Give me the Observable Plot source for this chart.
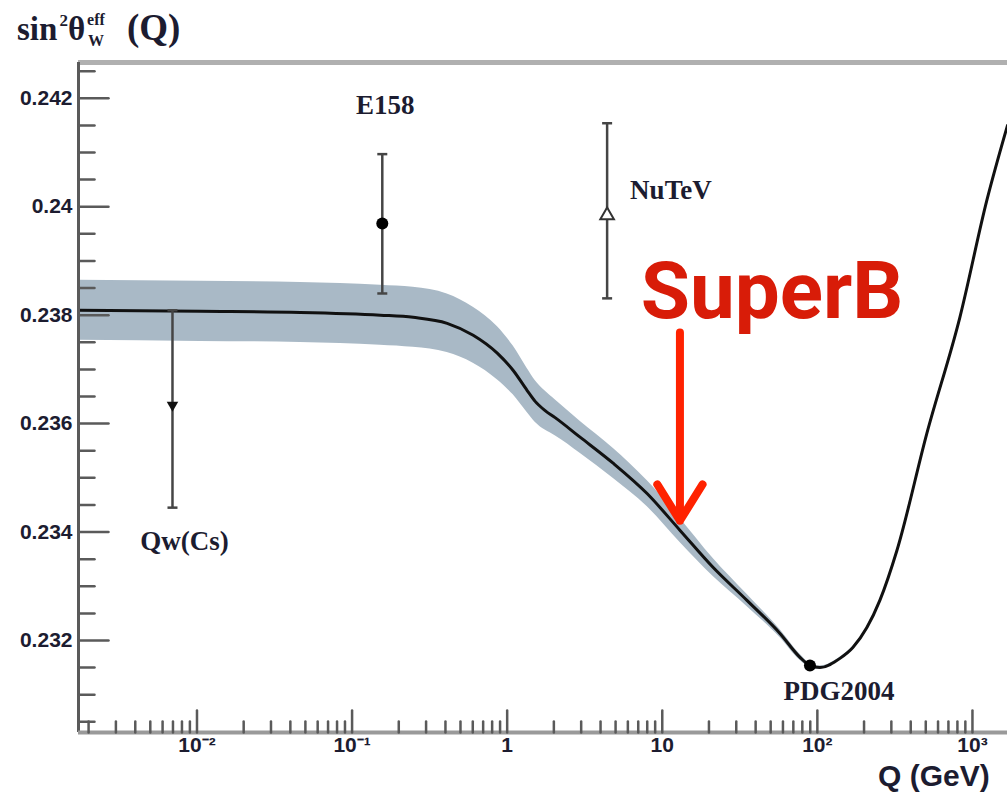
<!DOCTYPE html>
<html>
<head>
<meta charset="utf-8">
<script src="https://cdn.jsdelivr.net/npm/d3@7"></script>
<script src="https://cdn.jsdelivr.net/npm/@observablehq/plot@0.6"></script>
<style>
  html, body { margin: 0; padding: 0; background: #fff; overflow: hidden; width: 1007px; height: 793px; }
  #wrap { position: relative; width: 1007px; height: 793px; }
  #ylab { position: absolute; left: 17px; top: 8px; font-family: "Liberation Serif", serif; font-weight: bold; font-size: 33px; color: #1c1c30; white-space: nowrap; line-height: 40px; }
  #ylab .sup2 { font-size: 17px; position: relative; top: -14px; margin-left: 2px; }
  #ylab .ss { display: inline-block; vertical-align: middle; font-size: 16px; line-height: 21px; position: relative; top: -2px; margin-left: 2px; text-align: center; }
  #ylab .q { font-size: 37px; margin-left: 22px; }
  #xlab { position: absolute; left: 878px; top: 761px; font-family: "Liberation Sans", Arial, sans-serif; font-weight: bold; font-size: 30px; line-height: 30px; color: #1c1c30; white-space: nowrap; }
</style>
</head>
<body>
<div id="wrap">
  <div id="chart"></div>
  <div id="ylab">sin<span class="sup2">2</span>θ<span class="ss">eff<br>W</span><span class="q">(Q)</span></div>
  <div id="xlab">Q (GeV)</div>
</div>
<script>
// ---- running weak mixing angle (central curve) ----
const curveQ = [0.00172, 0.01052, 0.04634, 0.1521, 0.2477, 0.4102, 0.6039, 0.8630, 1.094, 1.346, 1.515, 1.757, 2.038, 2.951, 4.819, 7.980, 13.03, 21.23, 35.16, 57.41, 77.27, 89.54, 104.0, 139.9, 169.4, 252.9, 325.8, 508.2, 829.8, 1239, 1683];
const curveS2W = [0.23809, 0.23807, 0.23805, 0.23800, 0.23796, 0.23785, 0.23763, 0.23730, 0.23698, 0.23661, 0.23641, 0.23624, 0.23611, 0.23575, 0.23527, 0.23471, 0.23403, 0.23335, 0.23274, 0.23213, 0.23169, 0.23154, 0.23150, 0.23167, 0.23187, 0.23274, 0.23366, 0.23582, 0.23796, 0.24012, 0.24150];
const bandHalf = [0.000554, 0.000554, 0.000554, 0.000554, 0.000554, 0.000540, 0.000517, 0.000490, 0.000450, 0.000406, 0.000385, 0.000360, 0.000332, 0.000295, 0.000277, 0.000240, 0.000221, 0.000166, 0.000111, 0.000074, 0.000055, 0.000037, 0.000030, 0.000022, 0.000018, 0.000018, 0.000018, 0.000018, 0.000018, 0.000018, 0.000018];

// ---- measurements ----
const pointNames = ["Qw(Cs)", "E158", "NuTeV", "PDG2004"];
const pointQ     = [0.00695, 0.1566, 4.41, 89.6];
const pointS2W   = [0.23634, 0.23969, 0.23984, 0.23154];
const pointLo    = [0.23445, 0.23840, 0.23831, null];
const pointHi    = [0.23809, 0.24097, 0.24154, null];

// ---- SuperB annotation ----
const superbLabel = "SuperB";
const superbArrowQ = 13.0;
const superbArrowFrom = 0.23768;
const superbArrowTo = 0.23421;
const superbTextQ = 51.0;
const superbTextS2W = 0.23794;

// ---- axes ----
const xTicks = [0.01, 0.1, 1, 10, 100, 1000];
const xTickLabels = ["10⁻²", "10⁻¹", "1", "10", "10²", "10³"];
const yTicks = [0.232, 0.234, 0.236, 0.238, 0.240, 0.242];
const yTickLabels = ["0.232", "0.234", "0.236", "0.238", "0.24", "0.242"];
const xDomain = [Math.pow(10, -2.764), Math.pow(10, 3.226)];
const yDomain = [0.230303, 0.24266];

const curve = curveQ.map((q, i) => ({Q: q, v: curveS2W[i], h: bandHalf[i]}));
const points = pointNames.map((n, i) => ({name: n, Q: pointQ[i], v: pointS2W[i], lo: pointLo[i], hi: pointHi[i]}));
const withErr = points.filter(d => d.lo != null);
const caps = withErr.flatMap(d => [{Q: d.Q, v: d.lo}, {Q: d.Q, v: d.hi}]);
const superb = [{Q: superbArrowQ, y1: superbArrowFrom, y2: superbArrowTo, tQ: superbTextQ, tV: superbTextS2W, label: superbLabel}];

const yMinor = d3.range(2305, 2430, 5).map(v => v / 10000).filter(v => !yTicks.some(t => Math.abs(t - v) < 1e-9));
const xMinor = [];
for (let e = -3; e <= 3; e++) for (let k = 2; k <= 9; k++) {
  const v = k * Math.pow(10, e);
  if (v > xDomain[0] && v < xDomain[1]) xMinor.push(v);
}

const lineShape = {draw(context, l) { context.moveTo(0, 0); context.lineTo(0, -l); }};
const capSym = {draw(context, size) { const w = Math.sqrt(size / Math.PI); context.moveTo(-w, 0); context.lineTo(w, 0); }};

const axisColor = "#5a5a5a";
const textColor = "#1c1c30";
const serif = "Liberation Serif";

const chart = Plot.plot({
  width: 1007,
  height: 793,
  marginLeft: 78,
  marginRight: 0,
  marginTop: 62,
  marginBottom: 61,
  x: {type: "log", domain: xDomain},
  y: {domain: yDomain},
  style: {fontFamily: "Liberation Sans", background: "white", color: textColor},
  marks: [
    // band and curve
    Plot.areaY(curve, {x: "Q", y1: d => d.v - d.h, y2: d => d.v + d.h, fill: "#a9b9c6", curve: "monotone-x"}),
    Plot.line(curve, {x: "Q", y: "v", stroke: "#111", strokeWidth: 3, curve: "monotone-x"}),
    // error bars
    Plot.ruleX(withErr, {x: "Q", y1: "lo", y2: "hi", stroke: "#454545", strokeWidth: 2.5}),
    Plot.dot(caps, {x: "Q", y: "v", symbol: capSym, r: 5, stroke: "#454545", strokeWidth: 2.5}),
    // markers
    Plot.dot(points.filter(d => d.name === "E158" || d.name === "PDG2004"), {x: "Q", y: "v", r: 6, fill: "#000", stroke: null}),
    Plot.dot(points.filter(d => d.name === "Qw(Cs)"), {x: "Q", y: "v", symbol: "triangle2", rotate: 180, r: 5.5, fill: "#111"}),
    Plot.dot(points.filter(d => d.name === "NuTeV"), {x: "Q", y: "v", symbol: "triangle2", r: 6.5, fill: "#fff", stroke: "#333", strokeWidth: 2}),
    // labels
    Plot.text(points.filter(d => d.name === "E158"), {x: "Q", y: "hi", text: "name", dx: 3, dy: -49, fontFamily: serif, fontWeight: "bold", fontSize: 27, fill: textColor}),
    Plot.text(points.filter(d => d.name === "NuTeV"), {x: "Q", y: "v", text: "name", dx: 23, dy: -25, textAnchor: "start", fontFamily: serif, fontWeight: "bold", fontSize: 27, fill: textColor}),
    Plot.text(points.filter(d => d.name === "Qw(Cs)"), {x: "Q", y: "lo", text: "name", dx: 12, dy: 34, fontFamily: serif, fontWeight: "bold", fontSize: 27, fill: textColor}),
    Plot.text(points.filter(d => d.name === "PDG2004"), {x: "Q", y: "v", text: "name", dx: 29, dy: 26, fontFamily: serif, fontWeight: "bold", fontSize: 27, fill: textColor}),
    // SuperB annotation
    Plot.arrow(superb, {x1: "Q", x2: "Q", y1: "y1", y2: "y2", stroke: "#ff2200", strokeWidth: 8, headLength: 8, headAngle: 64}),
    Plot.text(superb, {x: "tQ", y: "tV", text: "label", lineAnchor: "bottom", fontFamily: "Roboto", fontWeight: "bold", fontSize: 80, fill: "#d81c08"}),
    // frame lines
    Plot.ruleY([yDomain[1]], {stroke: "#b0b0b0", strokeWidth: 5}),
    Plot.ruleX([xDomain[0]], {stroke: axisColor, strokeWidth: 3}),
    Plot.ruleY([yDomain[0]], {stroke: "#9a9a9a", strokeWidth: 4}),
    // inward ticks
    Plot.vector(yTicks, {y: d => d, frameAnchor: "left", rotate: 90, length: 30, anchor: "start", shape: lineShape, stroke: axisColor, strokeWidth: 2.5}),
    Plot.vector(yMinor, {y: d => d, frameAnchor: "left", rotate: 90, length: 16, anchor: "start", shape: lineShape, stroke: axisColor, strokeWidth: 2.5}),
    Plot.vector(xTicks, {x: d => d, frameAnchor: "bottom", rotate: 0, length: 22, anchor: "start", shape: lineShape, stroke: axisColor, strokeWidth: 2.5}),
    Plot.vector(xMinor, {x: d => d, frameAnchor: "bottom", rotate: 0, length: 11, anchor: "start", shape: lineShape, stroke: axisColor, strokeWidth: 2.5}),
    // tick labels
    Plot.axisX(xTicks, {tickSize: 0, tickPadding: 5, tickFormat: d => xTickLabels[xTicks.indexOf(d)], fontSize: 21, fontWeight: "bold", fill: textColor, label: null}),
    Plot.axisY(yTicks, {tickSize: 0, tickPadding: 6, tickFormat: d => yTickLabels[yTicks.indexOf(d)], fontSize: 21, fontWeight: "bold", fill: textColor, label: null})
  ]
});
document.getElementById("chart").appendChild(chart);
</script>
</body>
</html>
